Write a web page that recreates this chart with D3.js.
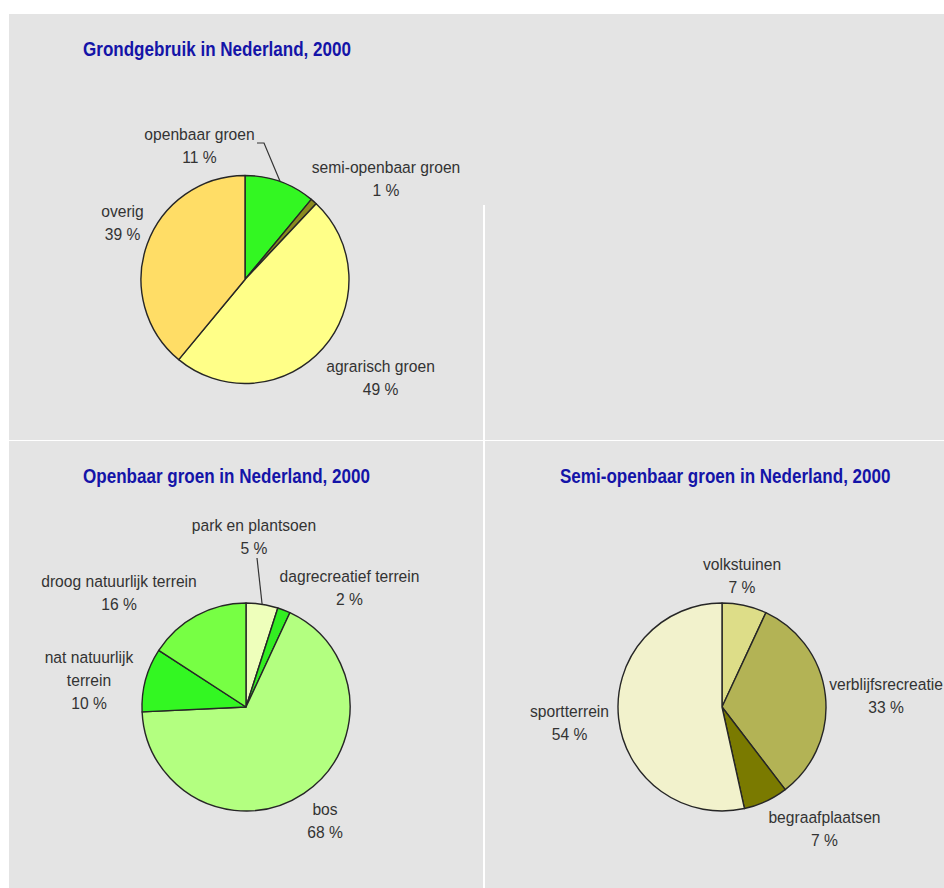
<!DOCTYPE html>
<html>
<head>
<meta charset="utf-8">
<script src="https://cdn.jsdelivr.net/npm/d3@7"></script>
<style>
body { margin: 0; background: #fff; }
text { font-family: "Liberation Sans", Arial, sans-serif; }
</style>
</head>
<body>
<div id="chart"></div>
<script>
// data
const landUseCats = ["openbaar groen", "semi-openbaar groen", "agrarisch groen", "overig"];
const landUseVals = [11, 1, 49, 39];

const publicCats = ["park en plantsoen", "dagrecreatief terrein", "bos", "nat natuurlijk terrein", "droog natuurlijk terrein"];
const publicVals = [5, 2, 68, 10, 16];

const semiCats = ["volkstuinen", "verblijfsrecreatie", "begraafplaatsen", "sportterrein"];
const semiVals = [7, 33, 7, 54];

// label line breaks
const wraps = {"nat natuurlijk terrein": ["nat natuurlijk", "terrein"]};

const W = 944, H = 888;
const bg = "#e4e4e4";

const svg = d3.select("#chart")
    .append("svg")
    .attr("width", W)
    .attr("height", H);

// grey panels
const panels = [[9, 14, 474, 426], [483, 14, 461, 426], [9, 441, 474, 447], [485, 441, 459, 447]];
svg.selectAll(".panel")
    .data(panels)
    .enter().append("rect")
    .attr("class", "panel")
    .attr("x", d => d[0]).attr("y", d => d[1])
    .attr("width", d => d[2]).attr("height", d => d[3])
    .attr("fill", bg);
svg.append("rect")
    .attr("x", 483).attr("y", 205).attr("width", 2).attr("height", 236)
    .attr("fill", "#fff");

function title(x, y, txt) {
    svg.append("g")
        .attr("transform", "translate(" + x + "," + y + ") scale(0.87,1)")
        .append("text")
        .attr("font-size", 19.6)
        .attr("font-weight", "bold")
        .attr("fill", "#1414a8")
        .text(txt);
}

function drawPie(cfg) {
    const R = 104;
    const sx = 0.92;
    const g = svg.append("g")
        .attr("transform", "translate(" + cfg.cx + "," + cfg.cy + ")");

    const pie = d3.pie().sort(null).value(d => d.v);
    const arc = d3.arc().innerRadius(0).outerRadius(R);
    const rows = cfg.cats.map((c, i) => ({c: c, v: cfg.vals[i]}));
    const arcs = pie(rows);

    g.selectAll(".slice")
        .data(arcs)
        .enter().append("path")
        .attr("class", "slice")
        .attr("d", arc)
        .attr("fill", (d, i) => cfg.colors[i])
        .attr("stroke", "#262626")
        .attr("stroke-width", 1.4)
        .attr("stroke-linejoin", "round");

    // leader lines
    Object.keys(cfg.leaders || {}).forEach(function (k) {
        const a = arcs[+k];
        const mid = (a.startAngle + a.endAngle) / 2;
        const pts = cfg.leaders[k].concat([[R * Math.sin(mid), -R * Math.cos(mid)]]);
        g.append("path")
            .attr("d", d3.line()(pts))
            .attr("fill", "none")
            .attr("stroke", "#333")
            .attr("stroke-width", 1.2);
    });

    // labels
    arcs.forEach(function (a, i) {
        const lines = (wraps[a.data.c] || [a.data.c]).concat([a.data.v + " %"]);
        let lx = cfg.labelPos[i][0];
        const ly = cfg.labelPos[i][1];
        const lg = g.append("g");
        const t = lg.append("text")
            .attr("text-anchor", "middle")
            .attr("font-size", 17)
            .attr("fill", "#333");
        lines.forEach(function (s, j) {
            t.append("tspan")
                .attr("x", 0)
                .attr("dy", j === 0 ? 0 : 23)
                .text(s);
        });
        // keep the label inside the page
        const half = t.node().getBBox().width * sx / 2;
        if (cfg.cx + lx + half > W - 1) lx = W - 1 - half - cfg.cx;
        lg.attr("transform", "translate(" + lx + "," + ly + ") scale(" + sx + ",1)");
    });
}

title(83, 56, "Grondgebruik in Nederland, 2000");
drawPie({
    cx: 245, cy: 279.5,
    cats: landUseCats, vals: landUseVals,
    colors: ["#33f722", "#8a8a1e", "#ffff88", "#ffdd66"],
    labelPos: [[-45.5, -139.5], [141, -106.5], [135.5, 92.5], [-122.5, -62.5]],
    leaders: {0: [[12, -136.5], [19, -136.5]]}
});

title(83, 483, "Openbaar groen in Nederland, 2000");
drawPie({
    cx: 246, cy: 707,
    cats: publicCats, vals: publicVals,
    colors: ["#eeffbb", "#33ee22", "#b3ff80", "#33f722", "#77ff44"],
    labelPos: [[8, -176], [103.5, -125], [79, 108], [-157, -44], [-127, -120]],
    leaders: {0: [[11, -149]]}
});

title(560, 483, "Semi-openbaar groen in Nederland, 2000");
drawPie({
    cx: 722, cy: 707,
    cats: semiCats, vals: semiVals,
    colors: ["#dddd88", "#b3b355", "#7a7a00", "#f2f2cc"],
    labelPos: [[20, -137], [167.5, -17], [102.5, 116], [-152.5, 10]]
});
</script>
</body>
</html>
